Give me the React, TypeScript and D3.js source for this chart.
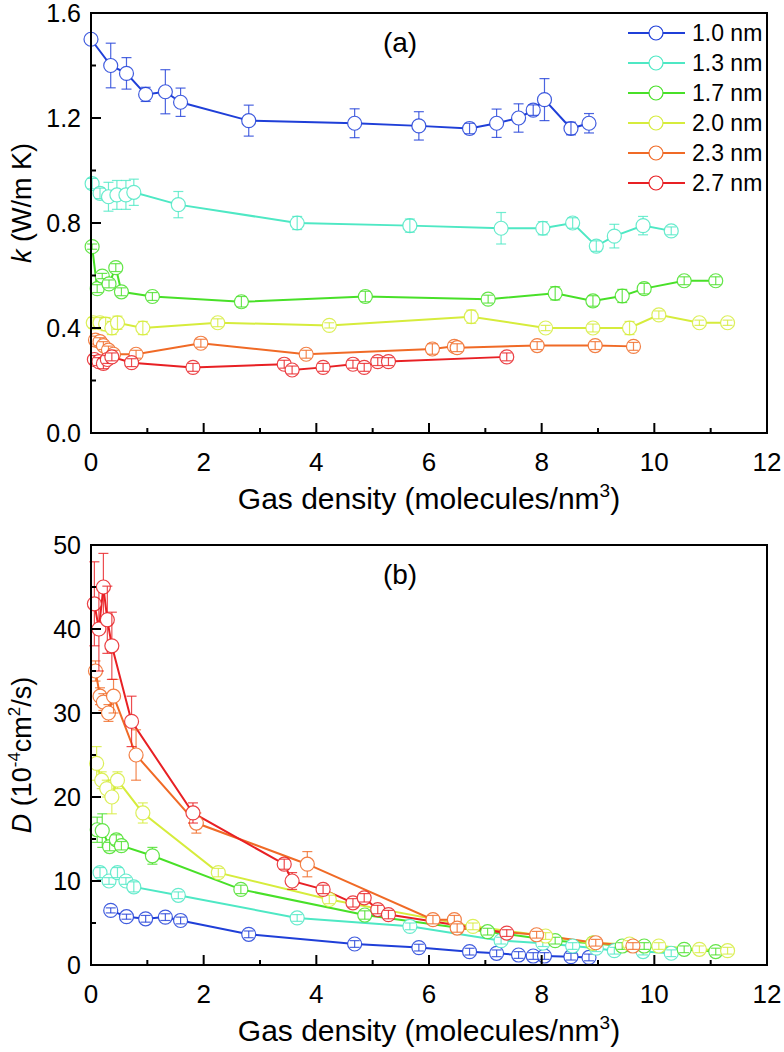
import React from "react";
import * as d3 from "d3";

// ---------- data ----------
const seriesNames = ["1.0 nm", "1.3 nm", "1.7 nm", "2.0 nm", "2.3 nm", "2.7 nm"];
const seriesColors = ["#1f3fd8", "#4ee8c4", "#48e028", "#d6ec3c", "#f06a26", "#e82024"];

// Panel (a): thermal conductivity k
const kX_10 = [0, 0.35, 0.63, 0.97, 1.32, 1.59, 2.8, 4.68, 5.82, 6.72, 7.2, 7.59, 7.85, 8.05, 8.52, 8.84];
const kY_10 = [1.5, 1.4, 1.37, 1.29, 1.3, 1.26, 1.19, 1.18, 1.17, 1.16, 1.18, 1.2, 1.23, 1.27, 1.16, 1.18];
const kE_10 = [0, 0.085, 0.06, 0.027, 0.084, 0.054, 0.059, 0.055, 0.054, 0.02, 0.054, 0.054, 0.02, 0.08, 0.024, 0.037];

const kX_13 = [0.02, 0.16, 0.31, 0.46, 0.62, 0.76, 1.55, 3.66, 5.66, 7.28, 8.02, 8.55, 8.97, 9.29, 9.8, 10.3];
const kY_13 = [0.95, 0.913, 0.9, 0.907, 0.907, 0.917, 0.87, 0.8, 0.79, 0.78, 0.78, 0.8, 0.712, 0.75, 0.79, 0.77];
const kE_13 = [0.02, 0.02, 0.055, 0.055, 0.055, 0.05, 0.05, 0.025, 0.025, 0.06, 0.025, 0.02, 0.02, 0.045, 0.035, 0.015];

const kX_17 = [0.02, 0.11, 0.2, 0.32, 0.44, 0.54, 1.09, 2.67, 4.87, 7.05, 8.24, 8.91, 9.43, 9.82, 10.53, 11.09];
const kY_17 = [0.71, 0.55, 0.598, 0.568, 0.63, 0.538, 0.52, 0.5, 0.52, 0.51, 0.532, 0.503, 0.522, 0.55, 0.58, 0.58];
const kE_17 = [0.01, 0.015, 0.01, 0.015, 0.015, 0.015, 0.015, 0.02, 0.02, 0.015, 0.025, 0.02, 0.025, 0.02, 0.015, 0.015];

const kX_20 = [0.04, 0.16, 0.26, 0.37, 0.47, 0.92, 2.25, 4.23, 6.75, 8.07, 8.91, 9.56, 10.08, 10.8, 11.3];
const kY_20 = [0.42, 0.42, 0.415, 0.4, 0.42, 0.4, 0.42, 0.41, 0.443, 0.4, 0.4, 0.4, 0.45, 0.42, 0.42];
const kE_20 = [0.02, 0.02, 0.025, 0.025, 0.025, 0.025, 0.015, 0.01, 0.025, 0.01, 0.015, 0.025, 0.015, 0.01, 0.01];

const kX_23 = [0.08, 0.16, 0.22, 0.31, 0.4, 0.8, 1.95, 3.82, 6.06, 6.45, 6.5, 7.92, 8.95, 9.63];
const kY_23 = [0.354, 0.348, 0.333, 0.316, 0.3, 0.3, 0.342, 0.3, 0.32, 0.33, 0.325, 0.333, 0.333, 0.33];
const kE_23 = [0.015, 0.015, 0.015, 0.015, 0.015, 0.015, 0.015, 0.015, 0.02, 0.015, 0.015, 0.015, 0.015, 0.015];

const kX_27 = [0.06, 0.14, 0.22, 0.29, 0.37, 0.72, 1.81, 3.43, 3.57, 4.12, 4.65, 4.85, 5.09, 5.28, 7.38];
const kY_27 = [0.28, 0.272, 0.265, 0.28, 0.29, 0.268, 0.25, 0.262, 0.24, 0.25, 0.262, 0.25, 0.272, 0.272, 0.29];
const kE_27 = [0.015, 0.015, 0.02, 0.015, 0.015, 0.015, 0.015, 0.015, 0.015, 0.015, 0.015, 0.015, 0.015, 0.015, 0.015];

// Panel (b): diffusion coefficient D
const dX_10 = [0.35, 0.63, 0.97, 1.32, 1.59, 2.8, 4.68, 5.82, 6.72, 7.2, 7.59, 7.85, 8.05, 8.52, 8.84];
const dY_10 = [6.5, 5.75, 5.5, 5.7, 5.3, 3.65, 2.5, 2.07, 1.59, 1.39, 1.19, 1.07, 1.07, 0.99, 0.9];
const dE_10 = [0.3, 0.3, 0.4, 0.4, 0.4, 0.4, 0.4, 0.4, 0.4, 0.4, 0.4, 0.4, 0.4, 0.4, 0.4];

const dX_13 = [0.16, 0.32, 0.47, 0.62, 0.76, 1.55, 3.66, 5.66, 7.28, 8.02, 8.55, 8.97, 9.29, 9.8, 10.3];
const dY_13 = [11.0, 10.0, 11.0, 10.0, 9.3, 8.3, 5.6, 4.6, 2.9, 2.6, 2.26, 2.0, 1.7, 1.6, 1.4];
const dE_13 = [0.6, 0.4, 0.6, 0.4, 0.6, 0.4, 0.4, 0.4, 0.4, 0.4, 0.4, 0.4, 0.4, 0.4, 0.4];

const dX_17 = [0.11, 0.2, 0.33, 0.45, 0.54, 1.09, 2.66, 4.86, 7.04, 8.24, 8.91, 9.43, 9.82, 10.53, 11.09];
const dY_17 = [16.1, 16.0, 14.1, 14.9, 14.2, 13.0, 9.0, 5.95, 3.97, 2.9, 2.6, 2.26, 2.26, 1.87, 1.6];
const dE_17 = [1.5, 2.0, 0.5, 0.6, 0.5, 1.0, 0.5, 0.5, 0.4, 0.4, 0.4, 0.4, 0.4, 0.4, 0.4];

const dX_20 = [0.1, 0.19, 0.28, 0.37, 0.47, 0.92, 2.26, 4.23, 6.78, 8.07, 8.91, 9.56, 10.08, 10.8, 11.3];
const dY_20 = [24.0, 22.0, 21.0, 20.0, 22.0, 18.1, 11.0, 7.8, 4.6, 3.45, 2.6, 2.5, 2.26, 1.87, 1.7];
const dE_20 = [2.0, 1.0, 1.0, 2.0, 1.0, 1.2, 0.5, 0.5, 0.4, 0.4, 0.4, 0.4, 0.4, 0.4, 0.4];

const dX_23 = [0.08, 0.16, 0.22, 0.31, 0.4, 0.8, 1.87, 3.84, 6.07, 6.45, 6.5, 7.91, 8.96, 9.62];
const dY_23 = [35.0, 32.0, 31.3, 30.0, 32.0, 25.0, 16.9, 12.0, 5.4, 5.4, 4.4, 3.6, 2.65, 2.26];
const dE_23 = [1.2, 1.0, 1.0, 1.0, 2.0, 3.0, 1.2, 1.5, 0.5, 0.5, 0.5, 0.4, 0.4, 0.4];

const dX_27 = [0.06, 0.14, 0.22, 0.29, 0.37, 0.72, 1.81, 3.43, 3.57, 4.12, 4.65, 4.85, 5.09, 5.28, 7.38];
const dY_27 = [43.0, 40.0, 45.0, 41.1, 38.0, 29.0, 18.1, 12.0, 10.0, 9.0, 7.4, 8.0, 6.6, 6.0, 3.8];
const dE_27 = [5.0, 5.0, 4.0, 4.0, 4.0, 3.0, 1.2, 0.6, 1.0, 0.5, 0.5, 0.5, 0.5, 0.5, 0.4];

const kSeries = [
  [kX_10, kY_10, kE_10],
  [kX_13, kY_13, kE_13],
  [kX_17, kY_17, kE_17],
  [kX_20, kY_20, kE_20],
  [kX_23, kY_23, kE_23],
  [kX_27, kY_27, kE_27],
];
const dSeries = [
  [dX_10, dY_10, dE_10],
  [dX_13, dY_13, dE_13],
  [dX_17, dY_17, dE_17],
  [dX_20, dY_20, dE_20],
  [dX_23, dY_23, dE_23],
  [dX_27, dY_27, dE_27],
];

const xTicks = [0, 2, 4, 6, 8, 10, 12];
const kTicks = [0, 0.4, 0.8, 1.2, 1.6];
const dTicks = [0, 10, 20, 30, 40, 50];

// ---------- layout ----------
const W = 784;
const H = 1052;
const FONT = "'Liberation Sans', Arial, sans-serif";
const R = 7;

type PanelProps = {
  top: number;
  bottom: number;
  yDomain: [number, number];
  yTicks: number[];
  yMinorStep: number;
  yFmt: (v: number) => string;
  data: number[][][];
  label: string;
  yTitle: React.ReactNode;
  yTitleCenter: number;
  legend?: boolean;
};

function Panel(p: PanelProps) {
  const left = 91;
  const right = 767;
  const x = d3.scaleLinear().domain([0, 12]).range([left, right]);
  const y = d3.scaleLinear().domain(p.yDomain).range([p.bottom, p.top]);
  const line = d3
    .line<[number, number]>()
    .x((d) => x(d[0]))
    .y((d) => y(d[1]));
  const xMinor = d3.range(1, 12, 2);
  const yMinor = d3
    .range(p.yDomain[0] + p.yMinorStep, p.yDomain[1], p.yMinorStep * 2)
    .filter((v) => v < p.yDomain[1]);

  const order = [0, 1, 2, 3, 4, 5];

  return (
    <g>
      {order.map((si) => {
        const [xs, ys] = p.data[si];
        const pts = xs.map((v, i) => [v, ys[i]] as [number, number]);
        return (
          <path
            key={"l" + si}
            d={line(pts) || ""}
            fill="none"
            stroke={seriesColors[si]}
            strokeWidth={2}
          />
        );
      })}
      {order.map((si) => {
        const [xs, ys, es] = p.data[si];
        const c = seriesColors[si];
        return (
          <g key={"m" + si}>
            {xs.map((v, i) => {
              const cx = x(v);
              const cy = y(ys[i]);
              const e = Math.abs(y(ys[i] + es[i]) - cy);
              const cap = 5;
              const parts: React.ReactNode[] = [];
              if (e > 0.5) {
                if (e > R) {
                  parts.push(
                    <line key="u" x1={cx} x2={cx} y1={cy - R} y2={cy - e} />,
                    <line key="d" x1={cx} x2={cx} y1={cy + R} y2={cy + e} />
                  );
                } else {
                  parts.push(<line key="v" x1={cx} x2={cx} y1={cy - e} y2={cy + e} />);
                }
                parts.push(
                  <line key="ct" x1={cx - cap} x2={cx + cap} y1={cy - e} y2={cy - e} />,
                  <line key="cb" x1={cx - cap} x2={cx + cap} y1={cy + e} y2={cy + e} />
                );
              }
              return (
                <g key={i}>
                  <circle cx={cx} cy={cy} r={R} fill="white" stroke={c} strokeOpacity={0.85} strokeWidth={1.2} />
                  <g stroke={c} strokeOpacity={0.8} strokeWidth={1.2}>
                    {parts}
                  </g>
                </g>
              );
            })}
          </g>
        );
      })}
      <rect x={left} y={p.top} width={right - left} height={p.bottom - p.top} fill="none" stroke="#000" strokeWidth={2} />
      {xTicks.map((t) => (
        <g key={"xt" + t}>
          <line x1={x(t)} x2={x(t)} y1={p.bottom} y2={p.bottom - 10} stroke="#000" strokeWidth={2} />
          <text x={x(t)} y={p.bottom + 38} textAnchor="middle" fontSize={26} fontFamily={FONT}>
            {t}
          </text>
        </g>
      ))}
      {xMinor.map((t) => (
        <line key={"xm" + t} x1={x(t)} x2={x(t)} y1={p.bottom} y2={p.bottom - 5} stroke="#000" strokeWidth={2} />
      ))}
      {p.yTicks.map((t) => (
        <g key={"yt" + t}>
          <line x1={left} x2={left + 10} y1={y(t)} y2={y(t)} stroke="#000" strokeWidth={2} />
          <text x={left - 10} y={y(t) + 9} textAnchor="end" fontSize={25} fontFamily={FONT}>
            {p.yFmt(t)}
          </text>
        </g>
      ))}
      {yMinor.map((t) => (
        <line key={"ym" + t} x1={left} x2={left + 5} y1={y(t)} y2={y(t)} stroke="#000" strokeWidth={2} />
      ))}
      <text x={(left + right) / 2} y={p.bottom + 76} textAnchor="middle" fontSize={30} fontFamily={FONT}>
        Gas density (molecules/nm
        <tspan fontSize={19} dy={-12}>3</tspan>
        <tspan dy={12}>)</tspan>
      </text>
      <text
        transform={`translate(31, ${p.yTitleCenter}) rotate(-90)`}
        textAnchor="middle"
        fontSize={27}
        fontFamily={FONT}
      >
        {p.yTitle}
      </text>
      <text x={400} y={p.top + 39} textAnchor="middle" fontSize={28} fontFamily={FONT}>
        {p.label}
      </text>
      {p.legend &&
        seriesNames.map((n, i) => {
          const ly = 33 + i * 30;
          return (
            <g key={"lg" + i}>
              <line x1={628} x2={685} y1={ly} y2={ly} stroke={seriesColors[i]} strokeWidth={2} />
              <circle cx={656} cy={ly} r={R} fill="white" stroke={seriesColors[i]} strokeWidth={1.2} />
              <text x={692} y={ly + 8} fontSize={23} fontFamily={FONT}>
                {n}
              </text>
            </g>
          );
        })}
    </g>
  );
}

export default function App() {
  return (
    <svg
      width={W}
      height={H}
      style={{ position: "absolute", left: 0, top: 0, background: "#fff" }}
    >
      <rect width={W} height={H} fill="#fff" />
      <Panel
        top={13}
        bottom={433}
        yDomain={[0, 1.6]}
        yTicks={kTicks}
        yMinorStep={0.2}
        yFmt={(v) => v.toFixed(1)}
        data={kSeries}
        label="(a)"
        legend
        yTitleCenter={203}
        yTitle={
          <>
            <tspan fontStyle="italic">k</tspan> (W/m K)
          </>
        }
      />
      <Panel
        top={545}
        bottom={965}
        yDomain={[0, 50]}
        yTicks={dTicks}
        yMinorStep={5}
        yFmt={(v) => String(v)}
        data={dSeries}
        label="(b)"
        yTitleCenter={755}
        yTitle={
          <>
            <tspan fontStyle="italic">D</tspan> (10
            <tspan fontSize={17} dy={-11}>-4</tspan>
            <tspan dy={11}>cm</tspan>
            <tspan fontSize={17} dy={-11}>2</tspan>
            <tspan dy={11}>/s)</tspan>
          </>
        }
      />
    </svg>
  );
}
